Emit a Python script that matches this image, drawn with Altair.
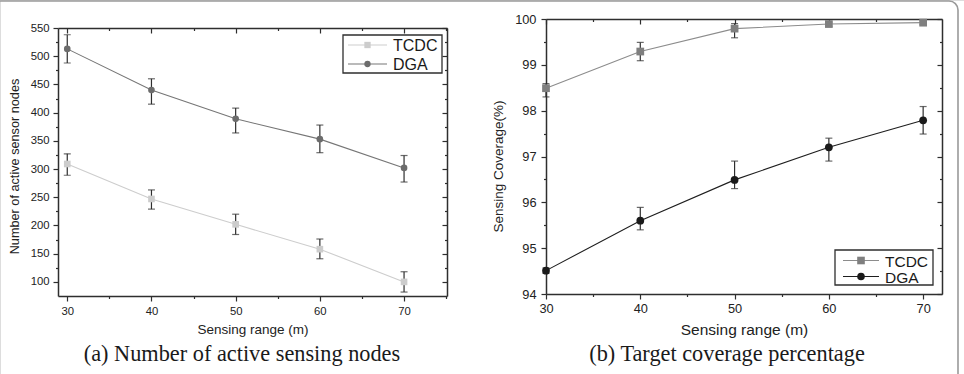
import altair as alt
import pandas as pd

# ---------------------------------------------------------------- data
series = ["TCDC", "DGA"]
sensing_range = [30, 40, 50, 60, 70]

# (a) number of active sensor nodes, mean with error bounds
nodes_tcdc = [309, 247, 202, 158, 100]
nodes_tcdc_lo = [289, 229, 184, 141, 82]
nodes_tcdc_hi = [327, 263, 220, 176, 118]
nodes_dga = [513, 440, 389, 353, 302]
nodes_dga_lo = [488, 415, 364, 329, 277]
nodes_dga_hi = [538, 460, 408, 378, 324]

# (b) sensing coverage (%), mean with error bounds
cov_tcdc = [98.49, 99.29, 99.79, 99.89, 99.92]
cov_tcdc_lo = [98.30, 99.09, 99.59, 99.84, 99.88]
cov_tcdc_hi = [98.59, 99.49, 99.90, 99.93, 99.96]
cov_dga = [94.51, 95.60, 96.49, 97.20, 97.79]
cov_dga_lo = [94.45, 95.40, 96.30, 96.90, 97.49]
cov_dga_hi = [94.57, 95.89, 96.90, 97.40, 98.09]

captions = ["(a) Number of active sensing nodes", "(b) Target coverage percentage"]


def long_table(vals, los, his):
    rows = []
    for name, v, lo, hi in zip(series, vals, los, his):
        for x, a, b, c in zip(sensing_range, v, lo, hi):
            rows.append({"range": x, "series": name, "val": a, "lo": b, "hi": c})
    return pd.DataFrame(rows)


nodes_df = long_table([nodes_tcdc, nodes_dga], [nodes_tcdc_lo, nodes_dga_lo],
                      [nodes_tcdc_hi, nodes_dga_hi])
cov_df = long_table([cov_tcdc, cov_dga], [cov_tcdc_lo, cov_dga_lo],
                    [cov_tcdc_hi, cov_dga_hi])

# ---------------------------------------------------------------- styling
W, H = 964, 374
SANS = "Liberation Sans"
SERIF = "Liberation Serif"
INK = "#2e2e2e"
MAJOR, MINOR = 5, 2.5


def ax(orient, offset, values, size, **kw):
    base = dict(orient=orient, offset=offset, values=values, tickSize=size,
                labels=False, domain=False, grid=False, title=None,
                tickColor=INK, tickWidth=1.2, domainColor=INK, domainWidth=1.5,
                labelFlush=False, labelOverlap=False, labelColor="#222",
                labelFont=SANS, titleFont=SANS, titleColor="#222",
                titleFontWeight="normal")
    base.update(kw)
    return alt.Axis(**base)


def panel(df, g):
    xs = alt.Scale(domain=g["xdom"], range=[g["L"], g["R"]], nice=False, zero=False)
    ys = alt.Scale(domain=g["ydom"], range=[g["B"], g["T"]], nice=False, zero=False)
    L, R, T, B = g["L"], g["R"], g["T"], g["B"]

    # main axes: bottom and left, with labels and titles
    x_main = ax("bottom", B - H, g["xmajor"], MAJOR, labels=True, domain=True,
                labelFontSize=g["tick_fs"], labelPadding=g["xpad"], format="d",
                title="Sensing range (m)", titleFontSize=g["xtitle_fs"],
                titleBaseline="middle", titleY=g["xtitle_y"])
    y_main = ax("left", -L, g["ymajor"], MAJOR, labels=True, domain=True,
                labelFontSize=g["tick_fs"], labelPadding=g["ypad"], format="d",
                title=g["ytitle"], titleFontSize=g["ytitle_fs"], titleAngle=270,
                titleBaseline="middle", titleX=g["ytitle_x"] - L, titleY=g["ytitle_y"])
    # minor ticks on the main axes
    x_minor = ax("bottom", B - H, g["xminor"], MINOR)
    y_minor = ax("left", -L, g["yminor"], MINOR)
    # mirrored ticks pointing inward on top and right
    x_top = ax("top", -(T + MAJOR), g["xmajor"], MAJOR)
    y_right = ax("right", (R - MAJOR) - W, g["ymajor"], MAJOR)
    x_top_minor = ax("top", -(T + MINOR), g["xminor"], MINOR)
    y_right_minor = ax("right", (R - MINOR) - W, g["yminor"], MINOR)
    # frame lines on top and right
    x_top_line = ax("top", -T, g["xmajor"], 0, ticks=False, domain=True)
    y_right_line = ax("right", R - W, g["ymajor"], 0, ticks=False, domain=True)

    base = alt.Chart(df)
    line = base.mark_line(strokeWidth=1.1).encode(
        x=alt.X("range:Q", scale=xs, axis=x_main),
        y=alt.Y("val:Q", scale=ys, axis=y_main),
        color=alt.Color("series:N", scale=alt.Scale(domain=series, range=g["line_colors"]),
                        legend=None),
    )
    bars = base.mark_rule(color=INK, strokeWidth=1.2).encode(
        x=alt.X("range:Q", scale=xs, axis=x_top),
        y=alt.Y("lo:Q", scale=ys, axis=y_right),
        y2="hi:Q",
    )
    caps = base.transform_fold(["lo", "hi"], as_=["end", "bound"]).mark_tick(
        orient="horizontal", size=7, thickness=1.2, color=INK
    ).encode(
        x=alt.X("range:Q", scale=xs, axis=x_minor),
        y=alt.Y("bound:Q", scale=ys, axis=y_minor),
    )
    points = base.mark_point(filled=True, opacity=1, size=g["msize"]).encode(
        x=alt.X("range:Q", scale=xs, axis=x_top_minor),
        y=alt.Y("val:Q", scale=ys, axis=y_right_minor),
        color=alt.Color("series:N", scale=alt.Scale(domain=series, range=g["marker_colors"]),
                        legend=None),
        shape=alt.Shape("series:N", scale=alt.Scale(domain=series, range=["square", "circle"]),
                        legend=None),
    )
    frame = base.mark_point(opacity=0).encode(
        x=alt.X("range:Q", scale=xs, axis=x_top_line),
        y=alt.Y("val:Q", scale=ys, axis=y_right_line),
    )
    return alt.layer(line, bars, caps, points, frame).resolve_axis(
        x="independent", y="independent"
    ).resolve_scale(color="independent", shape="independent")


def legend(lg):
    one = pd.DataFrame({"k": [0]})
    layers = [alt.Chart(one).mark_rect(fill="white", stroke=INK, strokeWidth=1.3).encode(
        x=alt.value(lg["x0"]), x2=alt.value(lg["x1"]),
        y=alt.value(lg["y0"]), y2=alt.value(lg["y1"]))]
    for i, name in enumerate(series):
        yy = lg["rows"][i]
        layers.append(alt.Chart(one).mark_rule(color=lg["line_colors"][i], strokeWidth=1.1).encode(
            x=alt.value(lg["lx0"]), x2=alt.value(lg["lx1"]), y=alt.value(yy)))
        layers.append(alt.Chart(one).mark_point(
            filled=True, opacity=1, size=lg["msize"], color=lg["marker_colors"][i],
            shape=["square", "circle"][i]).encode(
            x=alt.value((lg["lx0"] + lg["lx1"]) / 2), y=alt.value(yy)))
        layers.append(alt.Chart(one).mark_text(
            align="left", baseline="middle", font=SANS, fontSize=lg["fs"], color="#1a1a1a").encode(
            x=alt.value(lg["tx"]), y=alt.value(yy + 1), text=alt.value(name)))
    return layers


left_geom = dict(
    L=58, R=447, T=28, B=296, xdom=[28.9, 75.1], ydom=[75, 550],
    xmajor=[30, 40, 50, 60, 70], xminor=[35, 45, 55, 65, 75],
    ymajor=list(range(100, 551, 50)), yminor=list(range(125, 526, 50)),
    tick_fs=11.3, xpad=4, ypad=4, xtitle_fs=13.5, xtitle_y=33,
    ytitle="Number of active sensor nodes", ytitle_fs=12.7, ytitle_x=14, ytitle_y=166,
    line_colors=["#cdcdcd", "#767676"], marker_colors=["#cccccc", "#6c6c6c"], msize=44,
)
right_geom = dict(
    L=546, R=942, T=19, B=294, xdom=[30, 72], ydom=[94, 100],
    xmajor=[30, 40, 50, 60, 70], xminor=[35, 45, 55, 65],
    ymajor=[94, 95, 96, 97, 98, 99, 100], yminor=[94.5, 95.5, 96.5, 97.5, 98.5, 99.5],
    tick_fs=12.8, xpad=3, ypad=5, xtitle_fs=15.5, xtitle_y=35,
    ytitle="Sensing Coverage(%)", ytitle_fs=13.5, ytitle_x=498, ytitle_y=166,
    line_colors=["#8c8c8c", "#1e1e1e"], marker_colors=["#7f7f7f", "#1a1a1a"], msize=60,
)

left_legend = dict(x0=343, x1=442, y0=35, y1=73, rows=[45, 64], lx0=348, lx1=387, tx=393,
                   fs=16, msize=40, line_colors=left_geom["line_colors"],
                   marker_colors=left_geom["marker_colors"])
right_legend = dict(x0=835, x1=933, y0=250, y1=285, rows=[260.5, 276.5], lx0=843, lx1=879,
                    tx=885, fs=15.5, msize=58, line_colors=right_geom["line_colors"],
                    marker_colors=right_geom["marker_colors"])

one_row = pd.DataFrame({"k": [0]})
border = alt.Chart(one_row).mark_rect(
    fillOpacity=0, stroke="#9a9a9a", strokeWidth=1.6, cornerRadius=9
).encode(x=alt.value(-20), x2=alt.value(958), y=alt.value(1), y2=alt.value(430))

caption_layers = [
    alt.Chart(one_row).mark_text(font=SERIF, fontSize=22.3, color="#1a1a1a",
                                 align="center", baseline="alphabetic").encode(
        x=alt.value(cx), y=alt.value(361), text=alt.value(txt))
    for cx, txt in zip([242, 727], captions)
]

chart = alt.layer(
    border,
    panel(nodes_df, left_geom),
    panel(cov_df, right_geom),
    *legend(left_legend),
    *legend(right_legend),
    *caption_layers,
).resolve_scale(
    x="independent", y="independent", color="independent", shape="independent"
).properties(
    width=W, height=H, padding=0, autosize=alt.AutoSizeParams(type="none")
).configure_view(stroke=None).configure(background="white")

chart.save("out.html", embed_options={"renderer": "svg", "actions": False})
